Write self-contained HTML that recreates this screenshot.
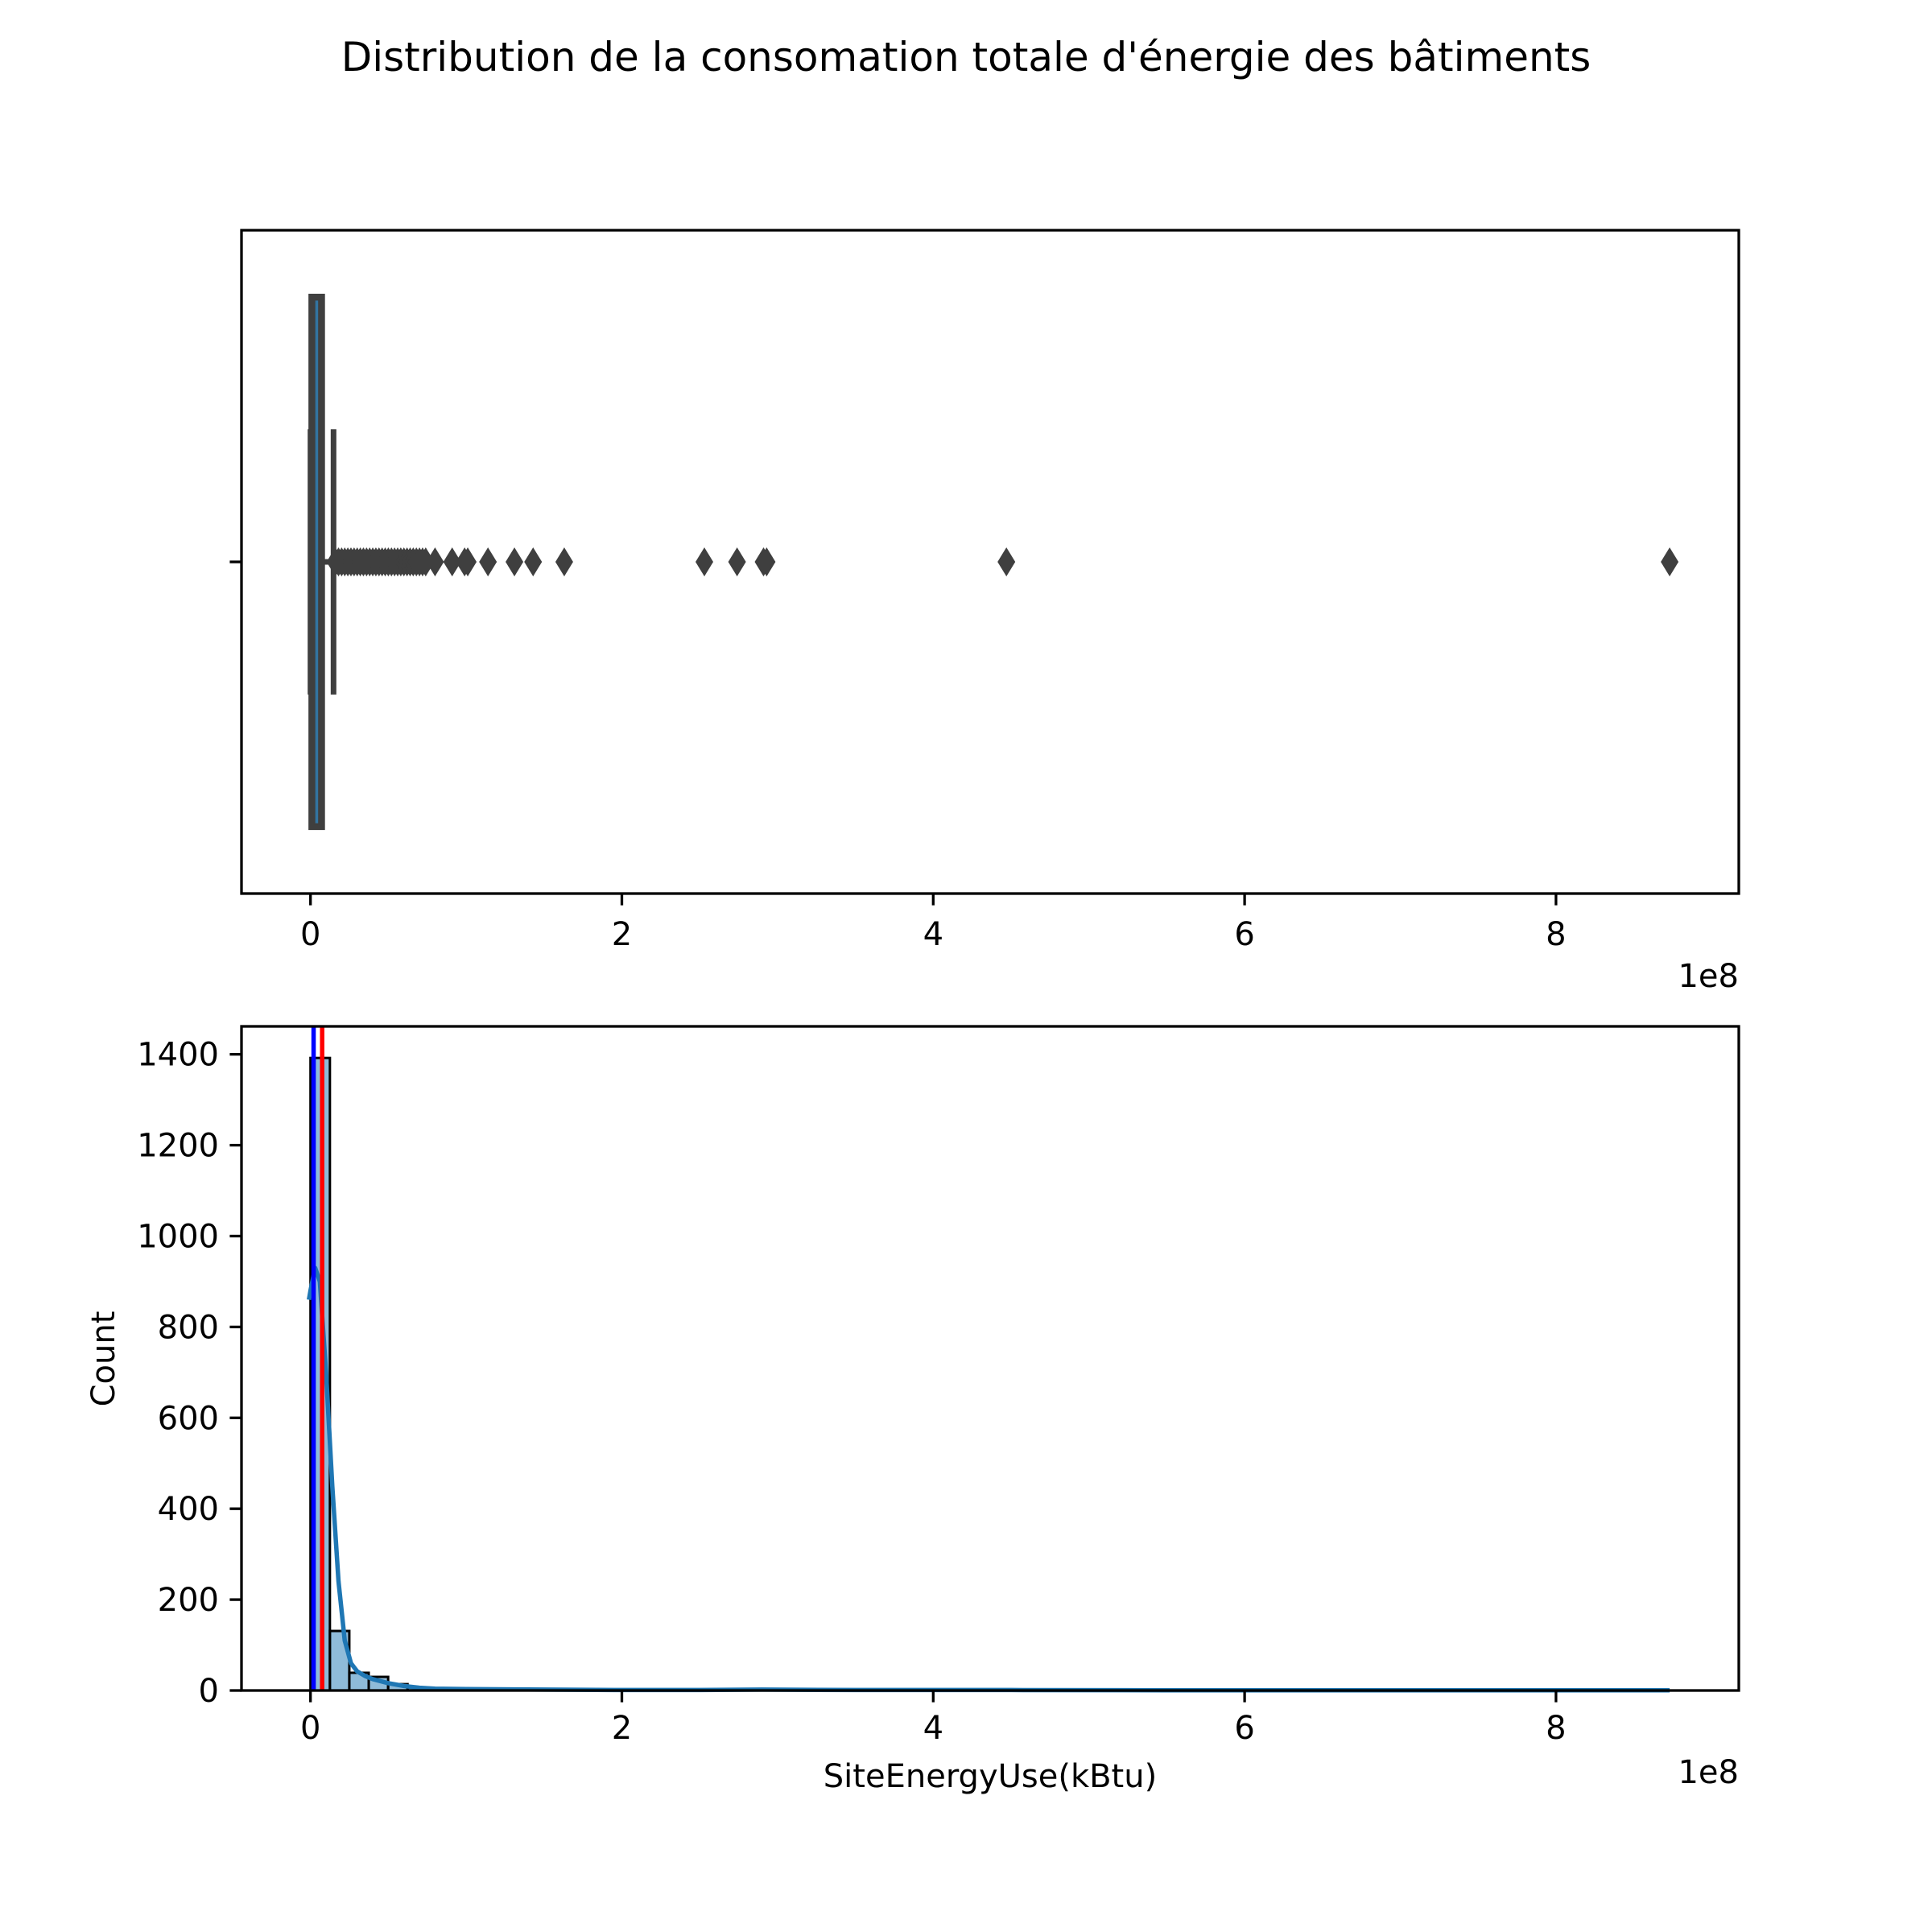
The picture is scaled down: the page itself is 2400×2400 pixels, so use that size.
<!DOCTYPE html>
<html><head><meta charset="utf-8"><style>
html,body{margin:0;padding:0;background:#fff}
svg{display:block}
text{font-family:"DejaVu Sans","Liberation Sans",sans-serif;fill:#000}
</style></head><body>
<svg id="fig" width="2400" height="2400" viewBox="0 0 2400 2400">
<rect width="2400" height="2400" fill="#fff"/>
<text x="1200" y="88" font-size="50" text-anchor="middle">Distribution de la consomation totale d'énergie des bâtiments</text>
<g id="topAx"></g>
<g id="botAx"></g>
</svg>
<script>
// ---- data ----
const xTicks = [0, 2, 4, 6, 8];            // in 1e8
const yTicks = [0, 200, 400, 600, 800, 1000, 1200, 1400];
const boxStats = {min: 0, q1: 0.005, median: 0.04, q3: 0.075, max: 0.148}; // 1e8
const outliers = [0.16,0.18,0.2,0.22,0.24,0.26,0.28,0.3,0.32,0.34,0.36,0.38,0.4,0.42,0.44,0.46,0.48,0.5,0.52,0.54,0.56,0.58,0.6,0.62,0.64,0.66,0.68,0.7,0.72,0.74,0.8,0.91,0.99,1.01,1.14,1.31,1.43,1.63,2.53,2.74,2.91,2.93,4.47,8.73];
const binWidth = 0.1247; // 1e8
const binCounts = [1392,131,39,30,14,6,3,2,1,1,1,1,1,0,0,1];
const kdeX = [-0.01,0.0,0.03,0.06,0.1,0.14,0.18,0.22,0.26,0.3,0.35,0.4,0.5,0.6,0.7,0.8,1.0,1.5,2.0,2.5,2.9,3.5,4.5,5.5,7,8.73];
const kdeY = [860,880,930,900,700,450,240,110,60,42,32,25,16,10,6,4,3,2,1,1,2,1,1,0.5,0.5,0.5];
const medianLine = 0.02, meanLine = 0.075;

const NS="http://www.w3.org/2000/svg";
function mk(parent, tag, attrs){const e=document.createElementNS(NS,tag);for(const k in attrs)e.setAttribute(k,attrs[k]);parent.appendChild(e);return e;}
const L=300,R=2160;
const X0=385.7, PX=193.4;
const xs=v=>X0+v*PX;
const tick=14.6, lw=3.3;

// ---- top boxplot ----
const topG=document.getElementById('topAx');
const T1=286,B1=1110,cy=(T1+B1)/2, bh=(B1-T1)*0.8;
const wl=mk(topG,'line',{x1:xs(boxStats.q3),x2:xs(boxStats.max),y1:cy,y2:cy,stroke:'#3f3f3f','stroke-width':7});


[boxStats.min,boxStats.max].forEach(v=>{const c=mk(topG,'line',{x1:xs(v),x2:xs(v),y1:cy-bh/4,y2:cy+bh/4,stroke:'#3f3f3f','stroke-width':7});

});
const boxG=mk(topG,'g',{});


mk(boxG,'rect',{x:xs(boxStats.q1),y:cy-bh/2,width:xs(boxStats.q3)-xs(boxStats.q1),height:bh,fill:'#3f3f3f',stroke:'#3f3f3f','stroke-width':7});
const ml=mk(boxG,'line',{x1:xs(boxStats.median),x2:xs(boxStats.median),y1:cy-bh/2+5,y2:cy+bh/2-5,stroke:'#3274a1','stroke-width':3.5});


outliers.forEach(v=>{const x=xs(v);const d=mk(topG,'polygon',{points:`${x},${cy-18} ${x+11},${cy} ${x},${cy+18} ${x-11},${cy}`,fill:'#3f3f3f'});

});
mk(topG,'rect',{x:L,y:T1,width:R-L,height:B1-T1,fill:'none',stroke:'#000','stroke-width':lw});
mk(topG,'line',{x1:L-tick,x2:L,y1:cy,y2:cy,stroke:'#000','stroke-width':lw});
xTicks.forEach(t=>{mk(topG,'line',{x1:xs(t),x2:xs(t),y1:B1,y2:B1+tick,stroke:'#000','stroke-width':lw});
const tx=mk(topG,'text',{x:xs(t),y:B1+64,'font-size':40,'text-anchor':'middle'});tx.textContent=t;

});
const o1=mk(topG,'text',{x:R,y:1226,'font-size':40,'text-anchor':'end'});o1.textContent='1e8';



// ---- bottom histogram ----
const botG=document.getElementById('botAx');
const T2=1275,B2=2100,YP=112.9/200;
const ys=v=>B2-v*YP;
binCounts.forEach((c,i)=>{if(c<=0)return;const x1=xs(i*binWidth),x2=xs((i+1)*binWidth);
const r=mk(botG,'rect',{x:x1,y:ys(c),width:x2-x1,height:B2-ys(c),fill:'rgba(31,119,180,0.5)',stroke:'#000','stroke-width':3});

});
const kd=mk(botG,'path',{d:kdeX.map((v,i)=>(i?'L':'M')+xs(v)+','+ys(kdeY[i])).join(' '),fill:'none',stroke:'#1f77b4','stroke-width':5.5,'stroke-linejoin':'round'});


const bl=mk(botG,'line',{x1:xs(medianLine),x2:xs(medianLine),y1:T2,y2:B2,stroke:'#0000ff','stroke-width':5.5});


const rl=mk(botG,'line',{x1:xs(meanLine),x2:xs(meanLine),y1:T2,y2:B2,stroke:'#ff0000','stroke-width':5.5});


mk(botG,'rect',{x:L,y:T2,width:R-L,height:B2-T2,fill:'none',stroke:'#000','stroke-width':lw});
xTicks.forEach(t=>{mk(botG,'line',{x1:xs(t),x2:xs(t),y1:B2,y2:B2+tick,stroke:'#000','stroke-width':lw});
const tx=mk(botG,'text',{x:xs(t),y:B2+60,'font-size':40,'text-anchor':'middle'});tx.textContent=t;

});
yTicks.forEach(t=>{mk(botG,'line',{x1:L-tick,x2:L,y1:ys(t),y2:ys(t),stroke:'#000','stroke-width':lw});
const tx=mk(botG,'text',{x:L-28,y:ys(t)+14,'font-size':40,'text-anchor':'end'});tx.textContent=t;

});
const o2=mk(botG,'text',{x:R,y:2215,'font-size':40,'text-anchor':'end'});o2.textContent='1e8';


const xl=mk(botG,'text',{x:(L+R)/2,y:2220,'font-size':40,'text-anchor':'middle'});xl.textContent='SiteEnergyUse(kBtu)';


const yl=mk(botG,'text',{x:0,y:0,'font-size':40,'text-anchor':'middle',transform:'translate(142,1688) rotate(-90)'});yl.textContent='Count';


</script>
</body></html>
